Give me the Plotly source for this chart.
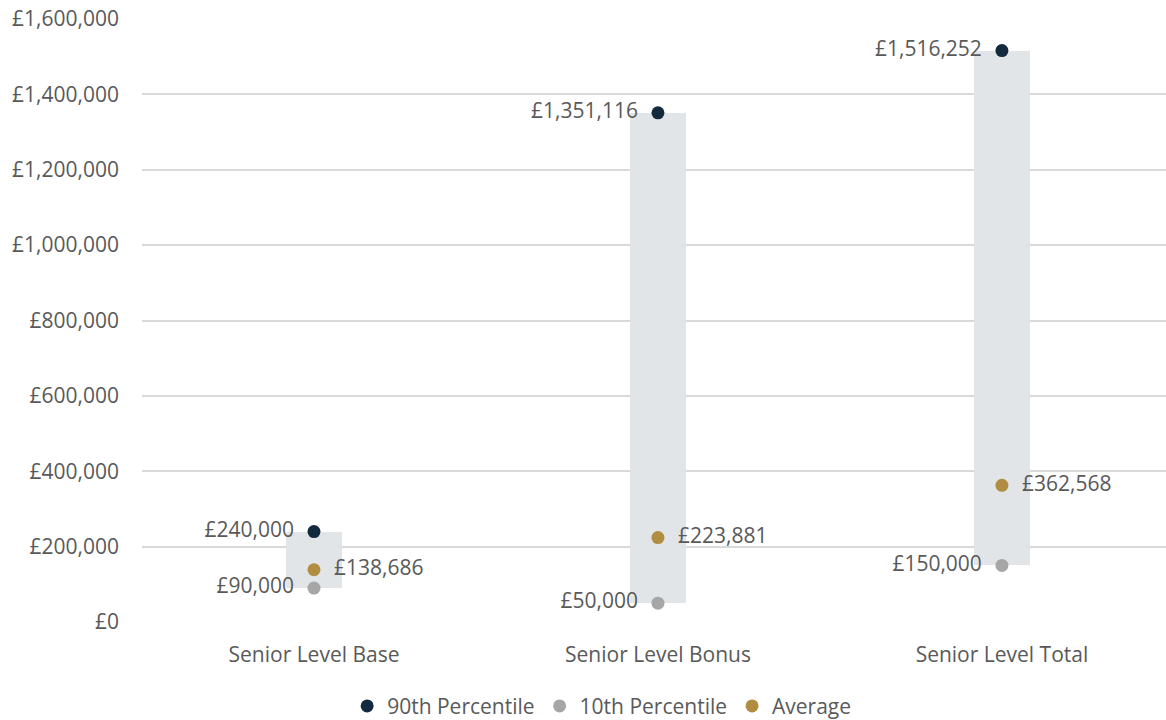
import plotly.graph_objects as go

categories = ["Senior Level Base", "Senior Level Bonus", "Senior Level Total"]
p90 = [240000, 1351116, 1516252]
p10 = [90000, 50000, 150000]
avg = [138686, 223881, 362568]
tick_vals = [0, 200000, 400000, 600000, 800000, 1000000, 1200000, 1400000, 1600000]
tick_text = ["£0", "£200,000", "£400,000", "£600,000", "£800,000", "£1,000,000", "£1,200,000", "£1,400,000", "£1,600,000"]

def fmt(v):
    return "£{:,}".format(v)

xs = list(range(len(categories)))
font_family = "Open Sans, Lato, sans-serif"
txt_color = "#595959"
fs = 21

fig = go.Figure()
fig.add_trace(go.Bar(
    x=xs, y=[a - b for a, b in zip(p90, p10)], base=p10,
    width=0.165, marker=dict(color="#e1e5e8", line=dict(width=0)),
    showlegend=False, hoverinfo="skip"))

fig.add_trace(go.Scatter(
    x=xs, y=p90, mode="markers+text", name="90th Percentile",
    marker=dict(color="#13293d", size=13),
    text=[fmt(v) for v in p90], textposition="middle left",
    texttemplate="%{text}  ",
    textfont=dict(size=fs, color=txt_color, family=font_family)))
fig.add_trace(go.Scatter(
    x=xs, y=p10, mode="markers+text", name="10th Percentile",
    marker=dict(color="#a6a6a6", size=13),
    text=[fmt(v) for v in p10], textposition="middle left",
    texttemplate="%{text}  ",
    textfont=dict(size=fs, color=txt_color, family=font_family)))
fig.add_trace(go.Scatter(
    x=xs, y=avg, mode="markers+text", name="Average",
    marker=dict(color="#b08d41", size=13),
    text=[fmt(v) for v in avg], textposition="middle right",
    texttemplate="  %{text}",
    textfont=dict(size=fs, color=txt_color, family=font_family)))

fig.update_layout(
    width=1166, height=720,
    margin=dict(l=142, r=0, t=19, b=98),
    paper_bgcolor="white", plot_bgcolor="white",
    font=dict(family=font_family, color=txt_color, size=fs),
    bargap=0,
    legend=dict(orientation="h", xref="container", x=0.516, xanchor="center",
                yref="container", y=0.019, yanchor="middle",
                font=dict(size=fs, color=txt_color), itemwidth=30,
                traceorder="normal"),
    xaxis=dict(range=[-0.5, 2.477], tickvals=xs, ticktext=categories,
               showgrid=False, zeroline=False, showline=False,
               ticks="outside", ticklen=14, tickcolor="rgba(0,0,0,0)",
               tickfont=dict(size=fs, color=txt_color)),
    yaxis=dict(range=[0, 1600000], tickvals=tick_vals, ticktext=tick_text,
               showgrid=True, gridcolor="#d9d9d9", gridwidth=1.5,
               zeroline=False, showline=False,
               ticklabelstandoff=22,
               tickfont=dict(size=fs, color=txt_color)),
)

fig.write_html("out.html")
